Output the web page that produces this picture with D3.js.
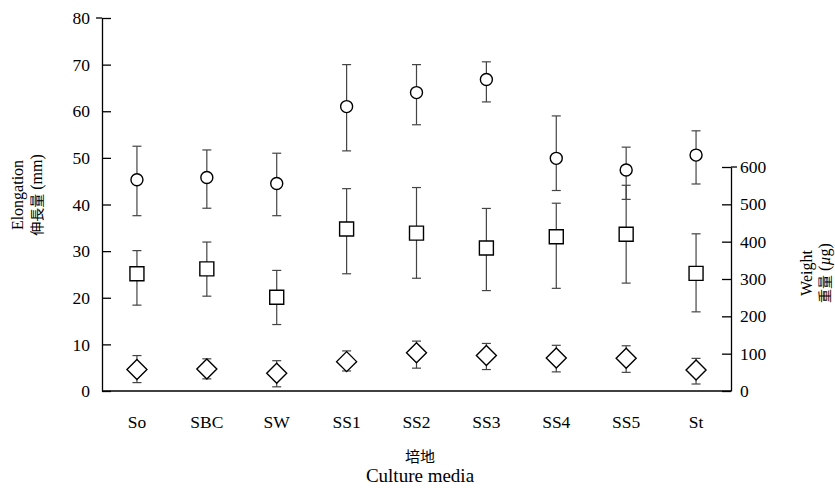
<!DOCTYPE html>
<html>
<head>
<meta charset="utf-8">
<script src="https://cdn.jsdelivr.net/npm/d3@7"></script>
<style>
  body { margin: 0; background: #fff; }
  svg { display: block; }
  text { font-family: "Liberation Serif", "Times New Roman", serif; fill: #000; }
  .jp { font-family: "Noto Sans CJK JP", sans-serif; }
</style>
</head>
<body>
<div id="chart"></div>
<script>
const media = ["So", "SBC", "SW", "SS1", "SS2", "SS3", "SS4", "SS5", "St"];

// elongation (mm), circles, left axis
const elongMean = [45.3, 45.8, 44.5, 61.0, 64.0, 66.8, 49.9, 47.4, 50.6];
const elongLow  = [37.6, 39.2, 37.6, 51.5, 57.1, 62.0, 43.0, 41.1, 44.4];
const elongHigh = [52.5, 51.7, 51.0, 70.0, 70.0, 70.6, 59.0, 52.3, 55.8];

// weight (µg), squares, right axis
const weightMean = [314, 327, 251, 434, 423, 383, 413, 420, 315];
const weightLow  = [230, 254, 178, 314, 302, 269, 275, 289, 212];
const weightHigh = [376, 399, 323, 542, 545, 489, 503, 551, 421];

// root elongation (mm), diamonds, left axis
const rootMean = [4.6, 4.7, 3.8, 6.3, 8.2, 7.6, 7.1, 7.0, 4.5];
const rootLow  = [1.8, 2.6, 0.9, 4.3, 4.9, 4.6, 4.1, 4.0, 1.5];
const rootHigh = [7.6, 6.9, 6.5, 8.6, 10.7, 10.2, 9.8, 9.7, 7.0];

const leftTicks = [0, 10, 20, 30, 40, 50, 60, 70, 80];
const rightTicks = [0, 100, 200, 300, 400, 500, 600];

const width = 835;
const height = 488;
const plot = { left: 102, right: 731, top: 18, bottom: 391 };

const x = d3.scalePoint(media, [plot.left, plot.right]).padding(0.5);
const yL = d3.scaleLinear([0, 80], [plot.bottom, plot.top]);
const yR = d3.scaleLinear([0, 600], [plot.bottom, plot.bottom - 224]);

const svg = d3.select("#chart").append("svg")
  .attr("width", width).attr("height", height);

// axes
const axisL = svg.append("g")
  .attr("transform", `translate(${plot.left},0)`)
  .call(d3.axisRight(yL).tickValues(leftTicks).tickSize(9).tickSizeOuter(0).tickFormat(""));
axisL.selectAll("text").remove();
axisL.selectAll("line,path").attr("stroke", "#000").attr("stroke-width", 1.3);
svg.append("line").attr("x1", plot.left - 6).attr("x2", plot.left).attr("y1", yL(80)).attr("y2", yL(80))
  .attr("stroke", "#000").attr("stroke-width", 1.3);
svg.append("g").selectAll("text").data(leftTicks).join("text")
  .attr("x", plot.left - 12).attr("y", (d) => yL(d)).attr("dy", "0.35em")
  .attr("text-anchor", "end").style("font-size", "17.5px").text((d) => d);

const axisR = svg.append("g")
  .attr("transform", `translate(${plot.right},0)`)
  .call(d3.axisLeft(yR).tickValues(rightTicks).tickSize(9).tickSizeOuter(0).tickFormat(""));
axisR.selectAll("line,path").attr("stroke", "#000").attr("stroke-width", 1.3);
svg.append("line").attr("x1", plot.right).attr("x2", plot.right + 6).attr("y1", yR(600)).attr("y2", yR(600))
  .attr("stroke", "#000").attr("stroke-width", 1.3);
svg.append("g").selectAll("text").data(rightTicks).join("text")
  .attr("x", plot.right + 9).attr("y", (d) => yR(d)).attr("dy", "0.35em")
  .attr("text-anchor", "start").style("font-size", "17.5px").text((d) => d);

svg.append("line")
  .attr("x1", plot.left).attr("x2", plot.right).attr("y1", plot.bottom).attr("y2", plot.bottom)
  .attr("stroke", "#000").attr("stroke-width", 1.3);

svg.append("g").selectAll("text").data(media).join("text")
  .attr("x", (d) => x(d)).attr("y", 428)
  .attr("text-anchor", "middle").style("font-size", "17.5px").text((d) => d);

// titles
const lt = svg.append("g").attr("transform", "translate(0,195) rotate(-90)");
lt.append("text").attr("x", 0).attr("y", 23).attr("text-anchor", "middle")
  .style("font-size", "16px").text("Elongation");
const lt2 = lt.append("text").attr("x", 0).attr("y", 42).attr("text-anchor", "middle")
  .style("font-size", "16px");
lt2.append("tspan").attr("class", "jp").style("font-size", "14px").text("伸長量");
lt2.append("tspan").text(" (mm)");

const rt = svg.append("g").attr("transform", "translate(0,273) rotate(-90)");
rt.append("text").attr("x", 0).attr("y", 812).attr("text-anchor", "middle")
  .style("font-size", "16px").text("Weight");
const rt2 = rt.append("text").attr("x", 0).attr("y", 830).attr("text-anchor", "middle")
  .style("font-size", "16px");
rt2.append("tspan").attr("class", "jp").style("font-size", "14px").text("重量");
rt2.append("tspan").text(" (");
rt2.append("tspan").style("font-style", "italic").text("µ");
rt2.append("tspan").text("g)");

svg.append("text").attr("class", "jp").attr("x", 420).attr("y", 462)
  .attr("text-anchor", "middle").style("font-size", "15px").text("培地");
svg.append("text").attr("x", 420).attr("y", 482)
  .attr("text-anchor", "middle").style("font-size", "19px").text("Culture media");

// series
const series = [
  { mean: elongMean, low: elongLow, high: elongHigh, y: yL, shape: "circle" },
  { mean: weightMean, low: weightLow, high: weightHigh, y: yR, shape: "square" },
  { mean: rootMean, low: rootLow, high: rootHigh, y: yL, shape: "diamond" },
];

const marks = svg.append("g");
series.forEach((s) => {
  const rows = media.map((m, i) => ({ m, v: s.mean[i], lo: s.low[i], hi: s.high[i] }));
  const g = marks.append("g");
  const eb = g.selectAll("g.eb").data(rows).join("g").attr("class", "eb")
    .attr("stroke", "#444").attr("stroke-width", 1.2);
  eb.append("line").attr("x1", (d) => x(d.m)).attr("x2", (d) => x(d.m))
    .attr("y1", (d) => s.y(d.lo)).attr("y2", (d) => s.y(d.hi));
  eb.append("line").attr("x1", (d) => x(d.m) - 4.5).attr("x2", (d) => x(d.m) + 4.5)
    .attr("y1", (d) => s.y(d.lo)).attr("y2", (d) => s.y(d.lo));
  eb.append("line").attr("x1", (d) => x(d.m) - 4.5).attr("x2", (d) => x(d.m) + 4.5)
    .attr("y1", (d) => s.y(d.hi)).attr("y2", (d) => s.y(d.hi));

  const pt = g.selectAll("path.pt").data(rows).join("path").attr("class", "pt")
    .attr("fill", "#fff").attr("stroke", "#000").attr("stroke-width", 1.4)
    .attr("transform", (d) => `translate(${x(d.m)},${s.y(d.v)})`);
  if (s.shape === "circle") {
    pt.attr("d", d3.symbol(d3.symbolCircle, Math.PI * 6 * 6));
  } else if (s.shape === "square") {
    pt.attr("d", "M-7,-7H7V7H-7Z");
  } else {
    pt.attr("d", "M0,-10L10,0L0,10L-10,0Z");
  }
});
</script>
</body>
</html>
